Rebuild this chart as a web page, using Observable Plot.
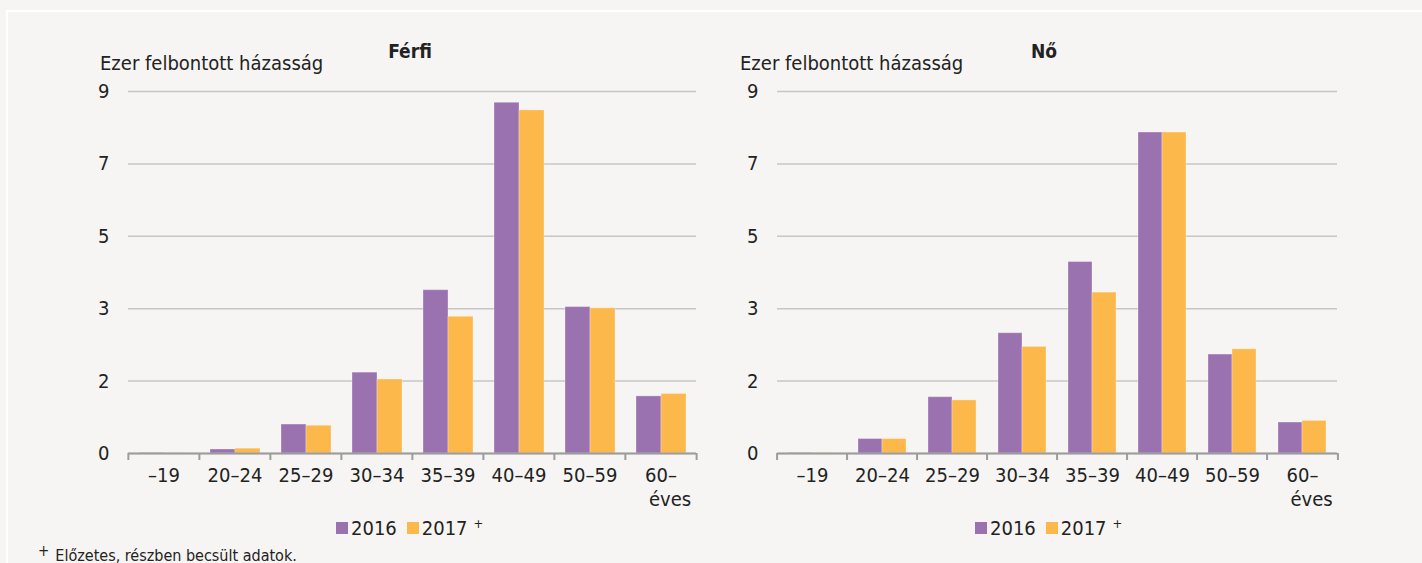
<!DOCTYPE html>
<html>
<head>
<meta charset="utf-8">
<script src="https://cdn.jsdelivr.net/npm/d3@7"></script>
<script src="https://cdn.jsdelivr.net/npm/@observablehq/plot@0.6"></script>
<style>
  html, body { margin: 0; padding: 0; background: #f6f5f3; }
  body { width: 1422px; height: 563px; position: relative; overflow: hidden;
         font-family: "Liberation Sans Narrow", "Arial Narrow", "DejaVu Sans Condensed", sans-serif; color: #222; }
  #frame { position: absolute; left: 6px; top: 10px; right: 0; bottom: 0;
           border-top: 2px solid #ffffff; border-left: 2px solid #ffffff; }
  .panel { position: absolute; top: 0; }
  .title { position: absolute; font-weight: bold; font-size: 19px; transform: translateX(-50%); white-space: nowrap; }
  .ylab { position: absolute; font-size: 20px; white-space: nowrap; }
  .legend { position: absolute; display: flex; align-items: center; font-size: 20px; white-space: nowrap; }
  .legend .sw { width: 12px; height: 12px; display: inline-block; margin-right: 3px; }
  .legend .item { display: flex; align-items: center; margin-right: 10px; }
  .legend sup { font-size: 13px; margin-left: 6px; position: relative; top: -5px; }
  .foot { position: absolute; left: 38px; top: 541px; font-size: 16px; white-space: nowrap; }
  .foot sup { font-size: 15px; margin-right: 6px; position: relative; top: 1px; }
</style>
</head>
<body>
<div id="frame"></div>
<div id="root"></div>
<script>
// ---- data ----
const ages = ["–19", "20–24", "25–29", "30–34", "35–39", "40–49", "50–59", "60–"];
const ageUnit = "éves";
const years = ["2016", "2017"];
const yearLabels = ["2016", "2017"];
const colors = ["#9b72b0", "#fdb84b"];
const ferfi2016 = [0.01, 0.10, 0.72, 2.01, 4.06, 8.72, 3.64, 1.42];
const ferfi2017 = [0.01, 0.12, 0.69, 1.84, 3.40, 8.53, 3.61, 1.48];
const no2016 = [0.01, 0.36, 1.40, 2.99, 4.76, 7.98, 2.46, 0.77];
const no2017 = [0.01, 0.36, 1.32, 2.65, 4.00, 7.98, 2.59, 0.81];
const yTicks = [0, 1.8, 3.6, 5.4, 7.2, 9];
const yTickLabels = ["0", "2", "3", "5", "7", "9"];
const yAxisTitle = "Ezer felbontott házasság";
const titles = ["Férfi", "Nő"];
const footnote = "Előzetes, részben becsült adatok.";

const FONT = '"Liberation Sans Narrow", "Arial Narrow", "DejaVu Sans Condensed", sans-serif';
const yLabelOf = new Map(yTicks.map((t, i) => [t, yTickLabels[i]]));

function chart(v2016, v2017, o) {
  const data = ages.flatMap((a, i) => [
    {age: a, year: years[0], value: v2016[i]},
    {age: a, year: years[1], value: v2017[i]}
  ]);
  const W = (o.width - o.ml - o.mr) / ages.length;
  const last = ages[ages.length - 1];
  return Plot.plot({
    width: o.width, height: 520,
    marginLeft: o.ml, marginRight: o.mr, marginTop: 91, marginBottom: 67,
    style: {background: "transparent", fontFamily: FONT, fontSize: "20px", color: "#222", overflow: "visible"},
    fx: {domain: ages, padding: 0, axis: null, label: null},
    x: {domain: years, paddingInner: 0, paddingOuter: 0.41, axis: null, label: null},
    y: {domain: [0, 9], axis: null, label: null},
    color: {domain: years, range: colors},
    marks: [
      Plot.gridY(yTicks, {stroke: "#c6c6c6", strokeOpacity: 1, strokeWidth: 1.5}),
      Plot.barY(data, {fx: "age", x: "year", y: "value", fill: "year", stroke: "#ffffff", strokeOpacity: 0.3, strokeWidth: 1}),
      Plot.ruleY([0], {stroke: "#9c9c9c", strokeWidth: 2}),
      Plot.axisY({ticks: yTicks, tickFormat: d => yLabelOf.get(d), tickSize: 0, tickPadding: 19, label: null}),
      Plot.axisFx({anchor: "bottom", tickSize: 0, tickPadding: 14, label: null}),
      Plot.axisFx({anchor: "bottom", ticks: [last], tickSize: 0, tickPadding: 38, dx: 9, tickFormat: () => ageUnit, label: null}),
      Plot.axisFx({anchor: "bottom", tickSize: 7, tickFormat: () => "", label: null, dx: -W / 2, stroke: "#9c9c9c", strokeWidth: 2}),
      Plot.axisFx({anchor: "bottom", ticks: [last], tickSize: 7, tickFormat: () => "", label: null, dx: W / 2, stroke: "#9c9c9c", strokeWidth: 2})
    ]
  });
}

const root = document.getElementById("root");
const panels = [
  {left: 0, width: 711, ml: 127, mr: 14, v1: ferfi2016, v2: ferfi2017, titleX: 410, ylabX: 100, legX: 336},
  {left: 711, width: 711, ml: 62, mr: 82, v1: no2016, v2: no2017, titleX: 333, ylabX: 29, legX: 264}
];
panels.forEach((p, k) => {
  const div = document.createElement("div");
  div.className = "panel";
  div.style.left = p.left + "px";
  div.style.width = p.width + "px";
  div.style.height = "563px";
  div.appendChild(chart(p.v1, p.v2, p));

  const t = document.createElement("div");
  t.className = "title";
  t.style.left = p.titleX + "px"; t.style.top = "40px";
  t.textContent = titles[k];
  div.appendChild(t);

  const yl = document.createElement("div");
  yl.className = "ylab";
  yl.style.left = p.ylabX + "px"; yl.style.top = "51px";
  yl.textContent = yAxisTitle;
  div.appendChild(yl);

  const lg = document.createElement("div");
  lg.className = "legend";
  lg.style.left = p.legX + "px"; lg.style.top = "516px";
  years.forEach((y, i) => {
    const it = document.createElement("span");
    it.className = "item";
    const sw = document.createElement("span");
    sw.className = "sw"; sw.style.background = colors[i];
    it.appendChild(sw);
    const tx = document.createElement("span");
    tx.textContent = yearLabels[i];
    it.appendChild(tx);
    if (i === 1) { const s = document.createElement("sup"); s.textContent = "+"; it.appendChild(s); }
    lg.appendChild(it);
  });
  div.appendChild(lg);
  root.appendChild(div);
});

const f = document.createElement("div");
f.className = "foot";
f.innerHTML = "<sup>+</sup>";
f.appendChild(document.createTextNode(footnote));
root.appendChild(f);
</script>
</body>
</html>
